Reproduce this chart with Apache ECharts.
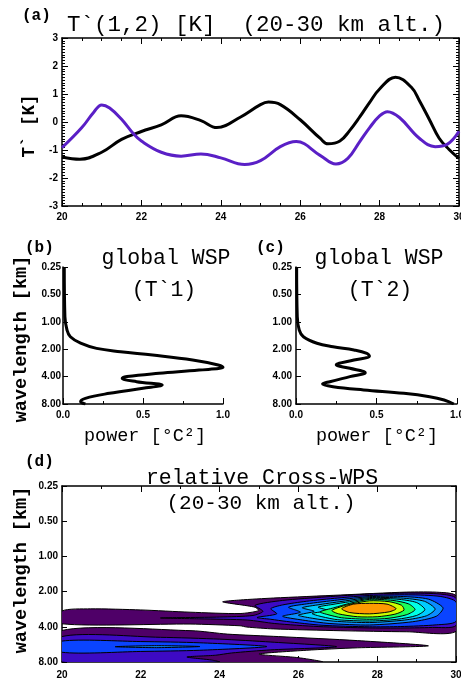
<!DOCTYPE html>
<html>
<head>
<meta charset="utf-8">
<script src="https://cdn.jsdelivr.net/npm/echarts@6/dist/echarts.min.js"></script>
<style>
  html, body { margin: 0; padding: 0; background: #fff; }
  #chart { width: 461px; height: 679px; }
</style>
</head>
<body>
<div id="chart"></div>
<script>
// (a) temperature perturbations, altitude [km] vs T' [K]
var t1Alt = [20.0, 20.45, 21.0, 21.5, 22.0, 22.5, 23.0, 23.5, 23.9, 24.5, 25.0, 25.2, 25.5, 26.0, 26.5, 26.7, 27.0, 27.25, 27.5, 27.75, 28.0, 28.4, 28.8, 29.0, 29.25, 29.5, 29.75, 30.0];
var t1Val = [-1.25, -1.33, -1.08, -0.62, -0.34, -0.1, 0.22, 0.05, -0.2, 0.18, 0.62, 0.71, 0.62, 0.08, -0.58, -0.78, -0.68, -0.3, 0.18, 0.7, 1.18, 1.6, 1.24, 0.77, 0.1, -0.58, -0.98, -1.3];
var t2Alt = [20.0, 20.5, 20.8, 21.0, 21.2, 21.5, 21.8, 22.0, 22.5, 23.0, 23.5, 24.0, 24.6, 25.0, 25.5, 25.9, 26.5, 26.9, 27.2, 27.5, 27.75, 28.0, 28.2, 28.5, 29.0, 29.4, 29.7, 30.0];
var t2Val = [-0.92, -0.2, 0.35, 0.61, 0.5, 0.1, -0.42, -0.68, -1.08, -1.22, -1.14, -1.28, -1.52, -1.38, -0.88, -0.7, -1.19, -1.5, -1.3, -0.7, -0.2, 0.22, 0.37, 0.16, -0.58, -0.88, -0.8, -0.33];

// (b), (c) global wavelet spectra: [power, wavelength km]
var wsp1 = [[0.008, 0.25], [0.012, 0.88], [0.025, 1.23], [0.046, 1.46], [0.11, 1.72], [0.21, 1.96], [0.36, 2.13], [0.56, 2.32], [0.81, 2.63], [0.97, 2.98], [1.0, 3.16], [0.85, 3.39], [0.6, 3.68], [0.4, 4.0], [0.37, 4.18], [0.46, 4.55], [0.62, 4.95], [0.5, 5.38], [0.29, 6.11], [0.14, 6.93], [0.11, 7.54], [0.14, 8.0]];
var wsp2 = [[0.004, 0.25], [0.008, 0.88], [0.02, 1.23], [0.046, 1.46], [0.13, 1.72], [0.23, 1.88], [0.36, 2.04], [0.44, 2.22], [0.456, 2.38], [0.36, 2.63], [0.25, 2.98], [0.335, 3.24], [0.43, 3.62], [0.335, 4.0], [0.21, 4.55], [0.165, 4.82], [0.23, 5.16], [0.42, 5.61], [0.67, 6.11], [0.83, 6.65], [0.92, 7.23], [0.98, 8.0]];

// (d) cross-WPS contour outlines: [altitude km, wavelength km], one per level
var upperL1 = [[20, 2.93], [20.72, 2.81], [22, 2.87], [23.25, 3.0], [24.52, 3.08], [24.99, 2.91], [24.9, 2.72], [24.08, 2.45], [24.52, 2.36], [25.37, 2.27], [27.06, 2.14], [28.75, 2.02], [29.59, 2.03], [30, 2.18], [30, 4.37], [28.75, 4.41], [27.06, 4.32], [25.37, 4.17], [24.69, 4.02], [24.52, 3.92], [23.25, 3.79], [20, 3.77]];
var upperL2 = [[22.5, 3.36], [24.0, 3.3], [24.85, 3.2], [25.1, 2.95], [24.9, 2.62], [25.6, 2.38], [26.7, 2.22], [27.8, 2.10], [28.8, 2.06], [29.6, 2.1], [30, 2.28], [30, 3.9], [29.4, 4.05], [28.5, 4.1], [27.8, 4.09], [26.5, 3.98], [25.4, 3.75], [24.7, 3.5], [23.5, 3.42]];
var upperL3 = [[24.95, 3.33], [25.45, 3.1], [25.3, 2.8], [25.6, 2.6], [26.2, 2.42], [27.0, 2.27], [27.8, 2.16], [28.8, 2.13], [29.6, 2.2], [30, 2.45], [30, 3.6], [29.5, 3.85], [28.6, 3.98], [27.8, 4.0], [26.6, 3.88], [25.7, 3.6], [25.3, 3.45]];
var upperL4 = [[25.6, 3.25], [26.05, 3.0], [25.75, 2.72], [26.2, 2.55], [27.0, 2.36], [27.8, 2.21], [28.6, 2.2], [29.3, 2.32], [29.67, 2.75], [29.5, 3.25], [28.9, 3.62], [27.8, 3.86], [26.8, 3.75], [26.1, 3.5]];
var upperL5 = [[26.0, 3.18], [26.4, 2.95], [26.1, 2.75], [26.55, 2.58], [27.2, 2.4], [27.8, 2.25], [28.6, 2.27], [29.2, 2.42], [29.47, 2.82], [29.25, 3.22], [28.7, 3.5], [27.8, 3.68], [26.9, 3.58], [26.35, 3.38]];
var upperL6 = [[26.35, 3.08], [26.75, 2.9], [26.5, 2.72], [26.85, 2.58], [27.3, 2.44], [27.8, 2.29], [28.5, 2.32], [29.0, 2.48], [29.21, 2.85], [29.0, 3.2], [28.5, 3.45], [27.8, 3.57], [27.0, 3.48], [26.6, 3.28]];
var upperL7 = [[26.55, 2.98], [26.9, 2.75], [27.3, 2.52], [27.8, 2.33], [28.4, 2.38], [28.8, 2.55], [28.96, 2.85], [28.75, 3.15], [28.3, 3.38], [27.8, 3.45], [27.1, 3.35], [26.75, 3.15]];
var upperL8 = [[26.85, 2.9], [27.2, 2.62], [27.8, 2.40], [28.3, 2.44], [28.62, 2.62], [28.68, 2.88], [28.45, 3.12], [28.0, 3.28], [27.5, 3.28], [27.02, 3.1]];
var upperL9 = [[27.1, 2.8], [27.4, 2.56], [27.8, 2.52], [28.25, 2.56], [28.48, 2.8], [28.3, 2.98], [27.8, 3.1], [27.3, 3.02]];
var lowerL1 = [[20, 4.30], [23.3, 4.32], [24.2, 4.62], [25.5, 4.85], [27.5, 5.25], [29.3, 5.82], [27.5, 6.05], [26.2, 6.35], [25.0, 6.85], [26.0, 7.35], [26.6, 8.0], [20, 8.0]];
var lowerL2 = [[20, 4.85], [22.5, 4.92], [24, 5.1], [25.3, 5.4], [26.97, 5.92], [25.3, 6.3], [24.3, 6.7], [23.9, 7.0], [23.17, 7.25], [23.8, 7.7], [24.0, 8.0], [20, 8.0]];
var lowerL3 = [[20, 5.3], [22, 5.35], [23.5, 5.48], [25.2, 5.9], [23.5, 6.35], [22, 6.5], [20, 6.6]];
var lowerL4 = [[21.35, 5.92], [22.4, 5.8], [23.5, 5.9], [22.4, 6.03]];

var levelColors = ['#4f0068', '#3d0ac4', '#0a44ff', '#0a8cff', '#00ccff', '#00ffe6', '#1aff5a', '#ccff00', '#ff9a00'];

// polygon + level index, in drawing order
var contourShapes = [
  [upperL1, 0], [lowerL1, 0], [upperL2, 1], [lowerL2, 1], [upperL3, 2], [lowerL3, 2],
  [upperL4, 3], [lowerL4, 3], [upperL5, 4], [upperL6, 5], [upperL7, 6], [upperL8, 7], [upperL9, 8]
];

var chart = echarts.init(document.getElementById('chart'));

var lblFont = { color: '#000', fontSize: 10, fontWeight: 'bold', fontFamily: 'Liberation Sans' };
var black = { color: '#000', width: 1.5 };

function xAx(grid, min, max, step, minor, labels, pos) {
  return {
    gridIndex: grid, type: 'value', min: min, max: max, interval: step, position: pos || 'bottom',
    axisLine: { show: true, onZero: false, lineStyle: black },
    axisTick: { inside: true, length: 6, lineStyle: { color: '#000' } },
    minorTick: { show: minor > 0, splitNumber: minor || 2, length: 3, lineStyle: { color: '#000' } },
    axisLabel: Object.assign({ show: labels, margin: 6, hideOverlap: false }, lblFont),
    splitLine: { show: false }
  };
}

function wlAx(grid, labels, pos, margin) {
  return {
    gridIndex: grid, type: 'log', logBase: 2, min: 0.25, max: 8, inverse: true, position: pos || 'left',
    axisLine: { show: true, onZero: false, lineStyle: black },
    axisTick: { inside: true, length: 5, lineStyle: { color: '#000' } },
    axisLabel: Object.assign({ show: labels, margin: margin, formatter: function (v) { return v.toFixed(2); } }, lblFont),
    splitLine: { show: false }
  };
}

function txt(x, y, s, size, opt) {
  opt = opt || {};
  return {
    type: 'text', x: x, y: y, rotation: opt.rot || 0,
    style: {
      text: s, fill: '#000', font: (opt.bold ? 'bold ' : '') + size + 'px "Liberation Mono", "DejaVu Sans Mono", monospace',
      align: opt.align || 'center', verticalAlign: 'middle'
    }
  };
}

var fixed1 = function (v) { return v.toFixed(1); };

var option = {
  backgroundColor: '#fff',
  animation: false,
  grid: [
    { left: 62, top: 38, width: 397, height: 168, outerBoundsMode: 'none', containLabel: false },
    { left: 63, top: 267, width: 160, height: 137, outerBoundsMode: 'none', containLabel: false },
    { left: 296, top: 267, width: 161, height: 137, outerBoundsMode: 'none', containLabel: false },
    { left: 62, top: 486, width: 394, height: 176, outerBoundsMode: 'none', containLabel: false }
  ],
  xAxis: [
    xAx(0, 20, 30, 2, 4, true),
    xAx(0, 20, 30, 2, 4, false, 'top'),
    Object.assign(xAx(1, 0, 1, 0.5, 2, true), { axisLabel: Object.assign({ margin: 6, formatter: fixed1 }, lblFont) }),
    Object.assign(xAx(2, 0, 1, 0.5, 2, true), { axisLabel: Object.assign({ margin: 6, formatter: fixed1 }, lblFont) }),
    Object.assign(xAx(3, 20, 30, 2, 2, true), { axisLabel: Object.assign({ margin: 8 }, lblFont) }),
    xAx(3, 20, 30, 2, 2, false, 'top')
  ],
  yAxis: [
    {
      gridIndex: 0, type: 'value', min: -3, max: 3, interval: 1,
      axisLine: { show: true, lineStyle: black },
      axisTick: { inside: true, length: 6, lineStyle: { color: '#000' } },
      minorTick: { show: true, splitNumber: 10, length: 3, lineStyle: { color: '#000' } },
      axisLabel: Object.assign({ margin: 4 }, lblFont),
      splitLine: { show: false }
    },
    {
      gridIndex: 0, type: 'value', min: -3, max: 3, interval: 1, position: 'right',
      axisLine: { show: true, lineStyle: black },
      axisTick: { inside: true, length: 6, lineStyle: { color: '#000' } },
      minorTick: { show: true, splitNumber: 10, length: 3, lineStyle: { color: '#000' } },
      axisLabel: { show: false },
      splitLine: { show: false }
    },
    wlAx(1, true, 'left', 2),
    wlAx(2, true, 'left', 4),
    wlAx(3, true, 'left', 4),
    wlAx(3, false, 'right', 4)
  ],
  series: [
    {
      type: 'line', xAxisIndex: 0, yAxisIndex: 0, smooth: 0.4, symbol: 'none',
      lineStyle: { color: '#000', width: 3 },
      data: t1Alt.map(function (a, i) { return [a, t1Val[i]]; })
    },
    {
      type: 'line', xAxisIndex: 0, yAxisIndex: 0, smooth: 0.4, symbol: 'none',
      lineStyle: { color: '#5a1fc6', width: 3 },
      data: t2Alt.map(function (a, i) { return [a, t2Val[i]]; })
    },
    {
      type: 'line', xAxisIndex: 2, yAxisIndex: 2, smooth: 0.4, symbol: 'none',
      lineStyle: { color: '#000', width: 3 }, data: wsp1
    },
    {
      type: 'line', xAxisIndex: 3, yAxisIndex: 3, smooth: 0.4, symbol: 'none',
      lineStyle: { color: '#000', width: 3 }, data: wsp2
    },
    {
      type: 'custom', xAxisIndex: 4, yAxisIndex: 4, clip: true,
      renderItem: function (params, api) {
        var k = api.value(2);
        var pts = contourShapes[k][0].map(function (p) { return api.coord(p); });
        return {
          type: 'polygon',
          shape: { points: pts, smooth: 0.25 },
          style: { fill: levelColors[contourShapes[k][1]], stroke: '#000', lineWidth: 1 }
        };
      },
      data: contourShapes.map(function (s, i) { return [s[0][0][0], s[0][0][1], i]; })
    }
  ],
  graphic: [
    txt(22, 16, '(a)', 16, { align: 'left', bold: true }),
    txt(256, 25, 'T`(1,2) [K]  (20-30 km alt.)', 22.5),
    txt(30, 126, 'T` [K]', 17.5, { bold: true, rot: Math.PI / 2 }),
    txt(25, 248, '(b)', 16, { align: 'left', bold: true }),
    txt(256, 248, '(c)', 16, { align: 'left', bold: true }),
    txt(166, 258, 'global WSP', 21.5),
    txt(164, 290, '(T`1)', 21.5),
    txt(379, 258, 'global WSP', 21.5),
    txt(380, 290, '(T`2)', 21.5),
    txt(21, 339, 'wavelength [km]', 18.5, { bold: true, rot: Math.PI / 2 }),
    txt(145, 436, 'power [°C²]', 18.5),
    txt(377, 436, 'power [°C²]', 18.5),
    txt(25, 462, '(d)', 16, { align: 'left', bold: true }),
    txt(262, 478, 'relative Cross-WPS', 21.5),
    txt(261, 503, '(20-30 km alt.)', 21),
    txt(21, 570, 'wavelength [km]', 18.5, { bold: true, rot: Math.PI / 2 })
  ]
};

chart.setOption(option);
</script>
</body>
</html>
